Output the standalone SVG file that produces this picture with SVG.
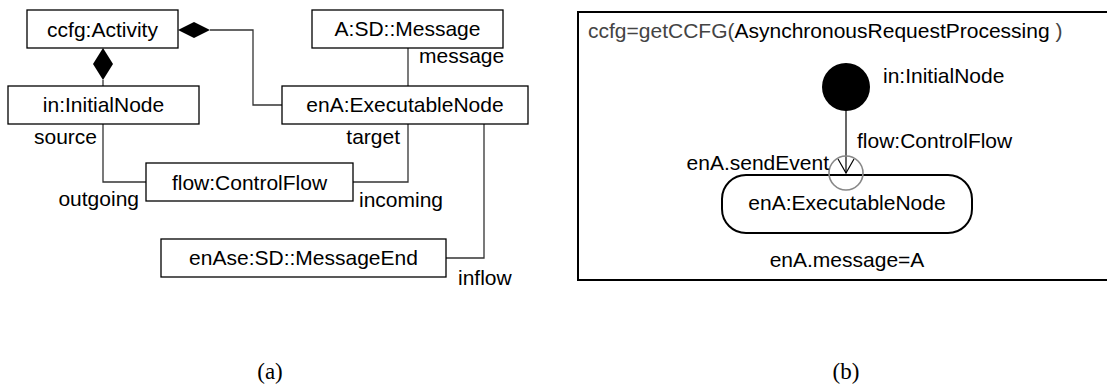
<svg xmlns="http://www.w3.org/2000/svg" width="1107" height="391" viewBox="0 0 1107 391">
<style>
text{font-family:"Liberation Sans",Arial,sans-serif;font-size:21px;fill:#000}
.box{fill:#fff;stroke:#000;stroke-width:1.3}
.c{text-anchor:middle}
.e{text-anchor:end}
.ln{fill:none;stroke:#333;stroke-width:1.3}
.cap{font-family:"Liberation Serif","Times New Roman",serif;font-size:23px;text-anchor:middle}
</style>
<rect width="1107" height="391" fill="#fff"/>
<g id="connectors">
<path class="ln" d="M210,30 H253 V105 H282"/>
<path class="ln" d="M103,80 V86"/>
<path class="ln" d="M103,124 V182 H146"/>
<path class="ln" d="M408,124 V182 H353"/>
<path class="ln" d="M408,48 V86"/>
<path class="ln" d="M484,124 V258 H446"/>
<polygon points="178,30 194,22 210,30 194,38" fill="#000"/>
<polygon points="103,48 113,64 103,80 93,64" fill="#000"/>
<text class="e" x="97" y="144">source</text>
<text class="e" x="139" y="206">outgoing</text>
<text class="e" x="400" y="144">target</text>
<text x="359" y="207">incoming</text>
<text x="419" y="63">message</text>
<text x="458" y="285">inflow</text>
</g>
<g id="ccfg"><rect class="box" x="27" y="10" width="151" height="38"/><text class="c" x="102.5" y="37">ccfg:Activity</text></g>
<g id="in"><rect class="box" x="8" y="86" width="191" height="38"/><text class="c" x="103.5" y="112">in:InitialNode</text></g>
<g id="msg"><rect class="box" x="312" y="10" width="191" height="38"/><text class="c" x="407.5" y="36">A:SD::Message</text></g>
<g id="enA"><rect class="box" x="282" y="86" width="246" height="38"/><text class="c" x="405" y="112">enA:ExecutableNode</text></g>
<g id="flow"><rect class="box" x="146" y="163" width="207" height="38"/><text class="c" x="249.5" y="190">flow:ControlFlow</text></g>
<g id="enAse"><rect class="box" x="161" y="239" width="285" height="38"/><text class="c" x="303.5" y="265">enAse:SD::MessageEnd</text></g>

<g id="frame">
<rect x="578" y="12" width="540" height="268" fill="none" stroke="#000" stroke-width="2"/>
<text x="588" y="38"><tspan fill="#444">ccfg=getCCFG(</tspan><tspan fill="#000">AsynchronousRequestProcessing</tspan><tspan fill="#444"> )</tspan></text>
</g>
<g id="b-connectors">
<line x1="846" y1="110" x2="846" y2="173" stroke="#000" stroke-width="1.2"/>
<polyline points="838,159 846,173 854,159" fill="none" stroke="#000" stroke-width="1.2"/>
<text x="857" y="148">flow:ControlFlow</text>
</g>
<g id="b-initial"><circle cx="846" cy="87" r="24" fill="#000"/><text x="883" y="83">in:InitialNode</text></g>
<g id="b-enA">
<rect x="722" y="175" width="250" height="58" rx="24" fill="#fff" stroke="#000" stroke-width="2"/>
<text class="c" x="847" y="210">enA:ExecutableNode</text>
<text class="c" x="847" y="267">enA.message=A</text>
</g>
<g id="b-event">
<circle cx="846" cy="173" r="17" fill="none" stroke="#888" stroke-width="1.6"/>
<text class="e" x="829" y="170">enA.sendEvent</text>
</g>
<text class="cap" x="270" y="379">(a)</text>
<text class="cap" x="846" y="379">(b)</text>
</svg>
